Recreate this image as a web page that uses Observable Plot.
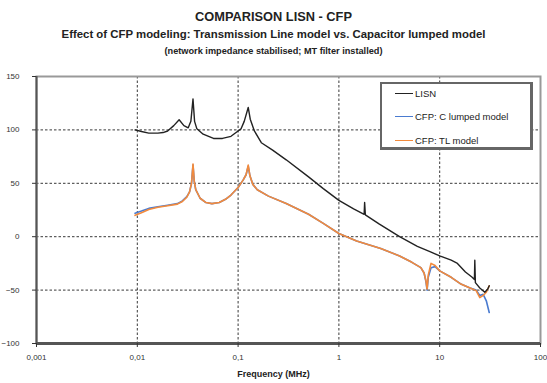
<!DOCTYPE html>
<html>
<head>
<meta charset="utf-8">
<script src="https://cdn.jsdelivr.net/npm/d3@7"></script>
<script src="https://cdn.jsdelivr.net/npm/@observablehq/plot@0.6"></script>
<style>
  body { margin: 0; background: #fff; font-family: "Liberation Sans", Arial, sans-serif; }
  #wrap { position: relative; width: 547px; height: 383px; overflow: hidden; }
  .t { position: absolute; left: 0; width: 547px; text-align: center; font-weight: bold; color: #222; white-space: nowrap; }
  #t1 { top: 9px; font-size: 12.8px; }
  #t2 { top: 28px; font-size: 11.4px; }
  #t3 { top: 46px; font-size: 9.2px; }
  #chart { position: absolute; left: 0; top: 62px; }
  #xlab { position: absolute; left: 0; width: 547px; top: 369px; text-align: center; font-weight: bold; font-size: 9px; color: #222; }
  #legend { position: absolute; left: 380px; top: 82px; width: 153px; height: 68px; border: 2px solid #666; border-right-width: 3px; border-bottom-width: 3px; background: #fff; box-sizing: border-box; font-size: 9.5px; color: #222; }
  #legend .row { position: absolute; left: 0; height: 12px; display: flex; align-items: center; }
  #legend .sw { width: 18px; height: 0; margin-left: 13px; margin-right: 2px; border-top: 1.6px solid; }
</style>
</head>
<body>
<div id="wrap">
  <div class="t" id="t1">COMPARISON LISN - CFP</div>
  <div class="t" id="t2">Effect of CFP modeling: Transmission Line model vs. Capacitor lumped model</div>
  <div class="t" id="t3">(network impedance stabilised; MT filter installed)</div>
  <div id="chart"></div>
  <div id="xlab">Frequency (MHz)</div>
  <div id="legend"></div>
</div>
<script>
// ---- data ----
const xTicks = [0.001, 0.01, 0.1, 1, 10, 100];
const xTickLabels = ["0,001", "0,01", "0,1", "1", "10", "100"];
const yTicks = [-100, -50, 0, 50, 100, 150];

const seriesNames = ["LISN", "CFP: C lumped model", "CFP: TL model"];
const seriesColors = ["#222222", "#4a7bd0", "#f28a3c"];

const lisnFreq = [0.0095, 0.011, 0.013, 0.016, 0.018, 0.02, 0.023, 0.026, 0.029, 0.032, 0.034, 0.0357, 0.037, 0.039, 0.045, 0.057, 0.07, 0.085, 0.1, 0.107, 0.115, 0.126, 0.132, 0.145, 0.17, 0.22, 0.3, 0.5, 0.7, 1.0, 1.4, 1.78, 1.8, 1.83, 2.5, 4, 6, 8, 10, 13, 15, 18, 21, 22.1, 22.3, 22.6, 25, 28, 30, 31];
const lisnDb   = [100, 98.5, 97, 97, 97.5, 99, 104, 109.5, 104, 102, 108, 129, 108, 101, 96, 92, 92, 94, 99, 101, 108, 121, 110, 99, 88, 81, 72, 56, 45, 34, 26, 21, 32, 20.5, 12, 0, -9, -14, -18, -22, -25, -33, -38, -40, -22, -43, -48, -52, -49, -46];

const cfpFreq  = [0.0095, 0.011, 0.013, 0.016, 0.02, 0.025, 0.028, 0.031, 0.033, 0.0345, 0.0357, 0.0367, 0.038, 0.042, 0.048, 0.055, 0.065, 0.075, 0.085, 0.1, 0.112, 0.12, 0.126, 0.131, 0.14, 0.155, 0.2, 0.3, 0.5, 0.7, 1.0, 1.5, 2.6, 4, 5.3, 6.5, 7.0, 7.3, 7.5, 7.7, 8.2, 9, 10, 13, 16, 20, 23, 25, 27, 29, 31];
const lumpedDb = [22, 24, 26.5, 28, 29.5, 31, 33.5, 37.5, 42, 50, 67, 52, 44, 36, 32, 31, 32, 35, 39, 46, 53, 58, 66, 57, 49, 44, 38, 31, 21, 12.5, 3, -4, -11, -18, -24, -29, -34, -42, -50, -38, -29, -28, -32, -38, -44, -48, -50, -55, -54, -60, -71];
const tlDb     = [20, 22.5, 25.5, 27.5, 29, 30.5, 33, 37, 42, 50, 68, 52, 44, 36, 32, 31, 32, 35, 39, 46, 53, 58, 67, 57, 49, 44, 38, 31, 21, 12.5, 3, -4, -11, -18, -24, -29, -34, -41, -49, -36, -25, -27, -32, -38, -44, -48, -50.5, -57, -55, -52, -46];

// ---- build tables ----
const lisn = lisnFreq.map((f, i) => ({f, v: lisnDb[i]}));
const lumped = cfpFreq.map((f, i) => ({f, v: lumpedDb[i]}));
const tl = cfpFreq.map((f, i) => ({f, v: tlDb[i]}));
const fmt = d => xTickLabels[xTicks.indexOf(d)] ?? String(d);

const chart = Plot.plot({
  width: 547,
  height: 321,
  marginTop: 14,
  marginLeft: 36,
  marginRight: 7,
  marginBottom: 40,
  style: {fontFamily: "Liberation Sans, Arial, sans-serif", fontSize: "8px", color: "#333", background: "transparent"},
  x: {type: "log", domain: [0.001, 100], label: null},
  y: {domain: [-100, 150], label: null},
  marks: [
    Plot.gridX(xTicks, {stroke: "#222", strokeOpacity: 0.9, strokeDasharray: "2.5,2", strokeWidth: 1}),
    Plot.gridY(yTicks, {stroke: "#222", strokeOpacity: 0.9, strokeDasharray: "2.5,2", strokeWidth: 1}),
    Plot.frame({stroke: "#999", strokeWidth: 2}),
    Plot.line(lumped, {x: "f", y: "v", stroke: seriesColors[1], strokeWidth: 1.6}),
    Plot.line(tl, {x: "f", y: "v", stroke: seriesColors[2], strokeWidth: 1.6}),
    Plot.line(lisn, {x: "f", y: "v", stroke: seriesColors[0], strokeWidth: 1.4}),
    Plot.ruleY([-100], {stroke: "#555", strokeWidth: 3}),
    Plot.ruleX([0.001], {stroke: "#555", strokeWidth: 2}),
    Plot.axisX({ticks: xTicks, tickFormat: fmt, tickSize: 4, tickPadding: 7, label: null}),
    Plot.axisY({ticks: yTicks, tickSize: 4, tickPadding: 13, label: null})
  ]
});
document.getElementById("chart").appendChild(chart);

// ---- legend ----
const leg = document.getElementById("legend");
seriesNames.forEach((name, i) => {
  const row = document.createElement("div");
  row.className = "row";
  row.style.top = (3 + i * 23.5) + "px";
  const sw = document.createElement("span");
  sw.className = "sw";
  sw.style.borderTopColor = seriesColors[i];
  const tx = document.createElement("span");
  tx.textContent = name;
  row.appendChild(sw);
  row.appendChild(tx);
  leg.appendChild(row);
});
</script>
</body>
</html>
